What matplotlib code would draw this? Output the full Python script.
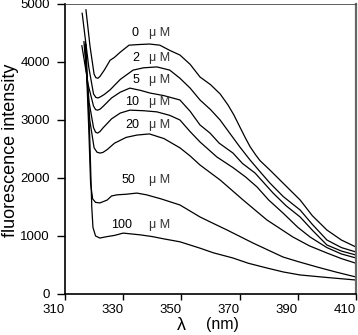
import numpy as np
import matplotlib
matplotlib.use('Agg')
import matplotlib.pyplot as plt

plt.rcParams['font.family'] = ['Liberation Sans', 'DejaVu Sans']

# emission spectra, one pair of lists per concentration
wl_0 = [317.2, 318.6, 320.0, 320.6, 321.3, 322.0, 323.5, 325.5, 327.0, 329.0, 332.0, 335.0, 339.0,
        342.6, 346.0, 349.5, 353.0, 356.4, 360.0, 363.3, 366.0, 368.0, 370.1, 372.0, 373.6, 375.5,
        377.0, 380.4, 384.9, 390.8, 395.0, 400.0, 405.0, 410.0]
fl_0 = [4900, 4270, 3790, 3730, 3720, 3750, 3860, 4030, 4080, 4170, 4290, 4300, 4310,
        4290, 4200, 4120, 3960, 3741, 3610, 3450, 3260, 3090, 2879, 2690, 2540, 2400,
        2300, 2138, 1914, 1621, 1350, 1103, 930, 810]

wl_2 = [315.9, 318.2, 319.8, 320.6, 321.3, 322.2, 323.5, 325.5, 329.0, 333.4, 337.0, 341.6, 346.0,
        349.5, 353.0, 356.4, 360.0, 363.3, 366.5, 370.1, 373.6, 377.0, 380.4, 385.0, 390.8, 395.0,
        400.0, 405.0, 410.0]
fl_2 = [4840, 3900, 3450, 3390, 3380, 3400, 3440, 3520, 3700, 3860, 3900, 3915, 3860,
        3720, 3550, 3345, 3180, 3000, 2780, 2534, 2310, 2110, 1914, 1680, 1448, 1200,
        931, 800, 724]

wl_5 = [315.8, 318.0, 319.8, 320.5, 321.2, 322.0, 323.0, 326.0, 329.0, 332.3, 336.0, 339.2, 344.0,
        349.5, 353.0, 356.4, 359.8, 363.0, 367.7, 371.0, 375.3, 381.5, 386.0, 390.8, 395.0, 400.0,
        405.0, 410.0]
fl_5 = [4280, 3600, 3240, 3180, 3170, 3185, 3230, 3380, 3480, 3550, 3510, 3465, 3420,
        3345, 3150, 2914, 2776, 2600, 2431, 2250, 2086, 1741, 1520, 1328, 1100, 845,
        740, 672]

wl_10 = [316.5, 318.3, 319.8, 320.5, 321.2, 322.0, 323.0, 326.0, 329.0, 332.3, 337.0, 341.6, 346.0,
         349.5, 353.0, 356.4, 362.2, 367.7, 372.0, 376.0, 380.0, 384.9, 390.0, 394.2, 400.0,
         405.0, 410.0]
fl_10 = [4350, 3300, 2870, 2790, 2775, 2800, 2860, 3020, 3120, 3170, 3160, 3140, 3080,
         3000, 2800, 2621, 2362, 2180, 2020, 1845, 1620, 1397, 1150, 983, 800,
         690, 621]

wl_20 = [316.8, 318.5, 320.0, 321.0, 322.0, 323.0, 324.5, 327.0, 331.0, 334.7, 339.0, 344.0, 349.5,
         353.0, 356.4, 363.3, 371.2, 379.4, 388.3, 394.0, 400.0, 405.0, 410.0]
fl_20 = [4300, 3000, 2520, 2445, 2430, 2440, 2490, 2600, 2700, 2740, 2760, 2680, 2520,
         2380, 2224, 1966, 1621, 1276, 983, 830, 707, 610, 530]

wl_50 = [317.0, 318.2, 318.8, 319.5, 320.5, 322.0, 324.5, 326.0, 327.9, 331.0, 334.7, 338.0, 343.0,
         349.5, 356.4, 360.0, 365.7, 374.6, 384.9, 390.0, 396.6, 403.0, 410.0]
fl_50 = [4350, 2800, 1900, 1640, 1580, 1570, 1620, 1690, 1710, 1720, 1740, 1710, 1640,
         1535, 1328, 1240, 1103, 879, 638, 560, 466, 380, 293]

wl_100 = [317.2, 318.5, 319.2, 319.6, 320.5, 322.0, 324.5, 327.0, 330.0, 335.8, 340.0, 344.0, 349.5,
          356.4, 361.0, 367.7, 373.0, 379.4, 385.0, 390.8, 400.0, 410.0]
fl_100 = [4300, 2700, 1500, 1150, 1000, 965, 990, 1010, 1050, 1020, 990, 950, 900,
          790, 710, 621, 530, 448, 380, 328, 285, 241]

conc = ['0', '2', '5', '10', '20', '50', '100']
label_y = [4500, 4070, 3690, 3310, 2915, 1965, 1190]
label_x = [335.4, 335.4, 335.4, 335.4, 335.4, 334.2, 333.2]

spectra = [(wl_0, fl_0), (wl_2, fl_2), (wl_5, fl_5), (wl_10, fl_10),
           (wl_20, fl_20), (wl_50, fl_50), (wl_100, fl_100)]

fig = plt.figure(figsize=(3.58, 3.35), dpi=100)
ax = fig.add_axes([65/358, 1-294/335, (356-65)/358, (294-4)/335])

for wl, fl in spectra:
    ax.plot(wl, fl, color='black', lw=0.9)

for c, lx, ly in zip(conc, label_x, label_y):
    ax.text(lx, ly, c, ha='right', va='center', fontsize=9)
    ax.text(338.8, ly, 'μ M', ha='left', va='center', fontsize=9, color='#333333')

ax.set_xlim(310, 410)
ax.set_ylim(0, 5000)
ax.set_xticks(np.arange(310, 411, 20))
ax.set_yticks(np.arange(0, 5001, 1000))
ax.tick_params(axis='x', direction='out', length=4, width=1, labelsize=9.5, pad=3)
ax.tick_params(axis='y', direction='out', length=6, width=1, labelsize=9.5, pad=5)
for lab in ax.get_xticklabels():
    lab.set_horizontalalignment('right')

ax.spines['left'].set_linewidth(1.2)
ax.spines['bottom'].set_linewidth(1.2)
ax.spines['top'].set_linewidth(0.6)
ax.spines['top'].set_color('#444444')
ax.spines['right'].set_linewidth(1.6)
ax.spines['right'].set_color('#666666')

fig.text(181/358, 1-325/335, 'λ', ha='center', va='center', fontsize=13)
fig.text(222/358, 1-324/335, '(nm)', ha='center', va='center', fontsize=11.5)
fig.text(11/358, 1-150/335, 'fluorescence intensity', rotation=90,
         ha='center', va='center', fontsize=13)

fig.savefig('out.png', dpi=100)
